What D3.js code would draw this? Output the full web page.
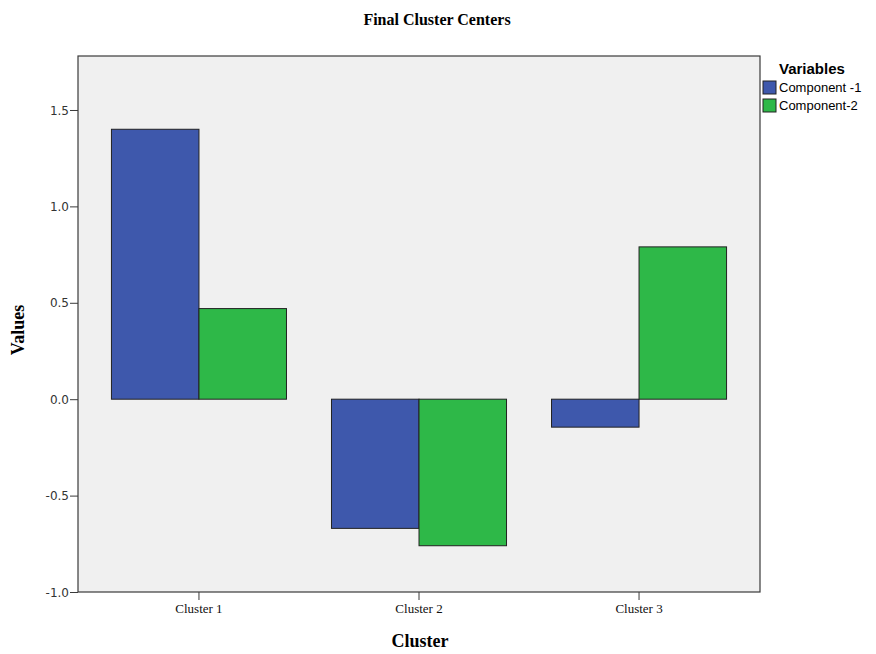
<!DOCTYPE html>
<html><head><meta charset="utf-8">
<script src="https://cdn.jsdelivr.net/npm/d3@7"></script>
<style>body{margin:0;background:#fff}svg{display:block}</style>
</head><body>
<svg id="chart" width="876" height="654"></svg>
<script>
const categories = ["Cluster 1", "Cluster 2", "Cluster 3"];
const seriesNames = ["Component -1", "Component-2"];
const component1 = [1.40, -0.67, -0.145];
const component2 = [0.47, -0.76, 0.79];
const yTicks = [-1.0, -0.5, 0.0, 0.5, 1.0, 1.5];
const colors = ["#3e58ac", "#2eb848"];

(function(){
const svg = d3.select("#chart");
const pL = 78, pR = 760, pT = 56, pB = 592;

const x0 = d3.scaleBand().domain(categories).range([pL, pR]).paddingInner(0.2045).paddingOuter(0.152);
const x1 = d3.scaleBand().domain(seriesNames).range([0, x0.bandwidth()]);
const y = d3.scaleLinear().domain([-1.0, 1.78]).range([pB, pT]);

svg.append("rect").attr("x", pL).attr("y", pT).attr("width", pR-pL).attr("height", pB-pT)
  .attr("fill", "#f0f0f0").attr("stroke", "#3a3a3a").attr("stroke-width", 1.2);

const data = categories.map((c,i)=>({cat:c, vals:[component1[i], component2[i]]}));
const g = svg.append("g");
data.forEach(d=>{
  d.vals.forEach((v,j)=>{
    g.append("rect")
      .attr("x", x0(d.cat)+x1(seriesNames[j]))
      .attr("y", y(Math.max(0,v)))
      .attr("width", x1.bandwidth())
      .attr("height", Math.abs(y(v)-y(0)))
      .attr("fill", colors[j]).attr("stroke", "#222").attr("stroke-width", 1);
  });
});

const yAxis = d3.axisLeft(y).tickValues(yTicks).tickFormat(d => d.toFixed(1)).tickSize(8).tickSizeOuter(0);
const ya = svg.append("g").attr("transform", `translate(${pL},0)`).call(yAxis);
ya.select(".domain").remove();
ya.selectAll("line").attr("stroke", "#3a3a3a");
ya.selectAll("text").style("font-family", "'DejaVu Sans', sans-serif").style("font-size", "12px").attr("fill", "#333").attr("x", -9).attr("dy","0.35em");

const xAxis = d3.axisBottom(x0).tickSize(8).tickSizeOuter(0);
const xa = svg.append("g").attr("transform", `translate(0,${pB})`).call(xAxis);
xa.select(".domain").remove();
xa.selectAll("line").attr("stroke", "#3a3a3a");
xa.selectAll("text").style("font-family", "'Liberation Serif', serif").style("font-size", "13px").attr("fill", "#111").attr("y", 12);

svg.append("text").attr("x", 437).attr("y", 25).attr("text-anchor","middle")
  .style("font-family","'Liberation Serif', serif").attr("font-weight","bold").style("font-size","16px").text("Final Cluster Centers");
svg.append("text").attr("x", 420).attr("y", 647).attr("text-anchor","middle")
  .style("font-family","'Liberation Serif', serif").attr("font-weight","bold").style("font-size","18px").text("Cluster");
svg.append("text").attr("transform","translate(24,330) rotate(-90)").attr("text-anchor","middle")
  .style("font-family","'Liberation Serif', serif").attr("font-weight","bold").style("font-size","18px").text("Values");

const lg = svg.append("g");
lg.append("text").attr("x", 779).attr("y", 74).style("font-family","'Liberation Sans', Arial, sans-serif")
  .attr("font-weight","bold").style("font-size","15px").text("Variables");
seriesNames.forEach((s,i)=>{
  lg.append("rect").attr("x", 763).attr("y", 81+i*18).attr("width", 13).attr("height", 13)
    .attr("fill", colors[i]).attr("stroke", "#222").attr("stroke-width", 1);
  lg.append("text").attr("x", 779).attr("y", 92+i*18).style("font-family","'Liberation Sans', Arial, sans-serif")
    .style("font-size","13px").text(s);
});
})();
</script>
</body></html>
